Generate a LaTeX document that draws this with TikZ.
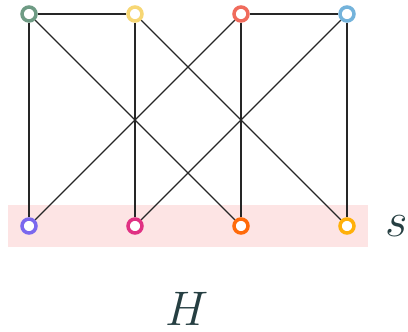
\documentclass[tikz,border=0pt]{standalone}
\usepackage{graphicx}
\usepackage{tikz}
\usetikzlibrary{positioning, backgrounds}
\definecolor{grnc}{HTML}{6E9B84}
\definecolor{ylwc}{HTML}{F7D774}
\definecolor{redc}{HTML}{F06B5C}
\definecolor{bluc}{HTML}{74B3DB}
\definecolor{purc}{HTML}{7B68EE}
\definecolor{magc}{HTML}{E03183}
\definecolor{orgc}{HTML}{FF6A0A}
\definecolor{gldc}{HTML}{FFB00A}
\definecolor{bandc}{HTML}{FDE4E4}
\definecolor{txtc}{HTML}{263F42}
\newcommand{\biglbl}[1]{\scalebox{1.95}{\Huge$#1$}}

\begin{document}
\begin{tikzpicture}[x=1pt, y=1pt,
      vtx/.style={circle, draw, line width=3.5pt, minimum size=14pt,
                  inner sep=0pt, fill=white},
      edge/.style={line width=1.4pt, draw=black!85},
      lbl/.style={text=txtc, inner sep=0pt}]
    \useasboundingbox (0,0) rectangle (408,332);

    \node[vtx, draw=grnc] (t1) at (29,318) {};
    \node[vtx, draw=ylwc] (t2) at (135,318) {};
    \node[vtx, draw=redc] (t3) at (241,318) {};
    \node[vtx, draw=bluc] (t4) at (347,318) {};

    \node[vtx, draw=purc] (b1) at (29,106) {};
    \node[vtx, draw=magc] (b2) at (135,106) {};
    \node[vtx, draw=orgc] (b3) at (241,106) {};
    \node[vtx, draw=gldc] (b4) at (347,106) {};

    \begin{scope}[on background layer]
      \fill[bandc] (8,85) rectangle (368,127);
      \draw[edge] (t1) -- (t2);
      \draw[edge] (t3) -- (t4);
      \draw[edge] (t1) -- (b1);
      \draw[edge] (t1) -- (b3);
      \draw[edge] (t2) -- (b2);
      \draw[edge] (t2) -- (b4);
      \draw[edge] (t3) -- (b1);
      \draw[edge] (t3) -- (b3);
      \draw[edge] (t4) -- (b2);
      \draw[edge] (t4) -- (b4);
    \end{scope}

    \node[lbl] (s) at (397,106) {\biglbl{s}};
    \node[lbl] (h) at (187,23) {\biglbl{H}};
  \end{tikzpicture}
\end{document}
